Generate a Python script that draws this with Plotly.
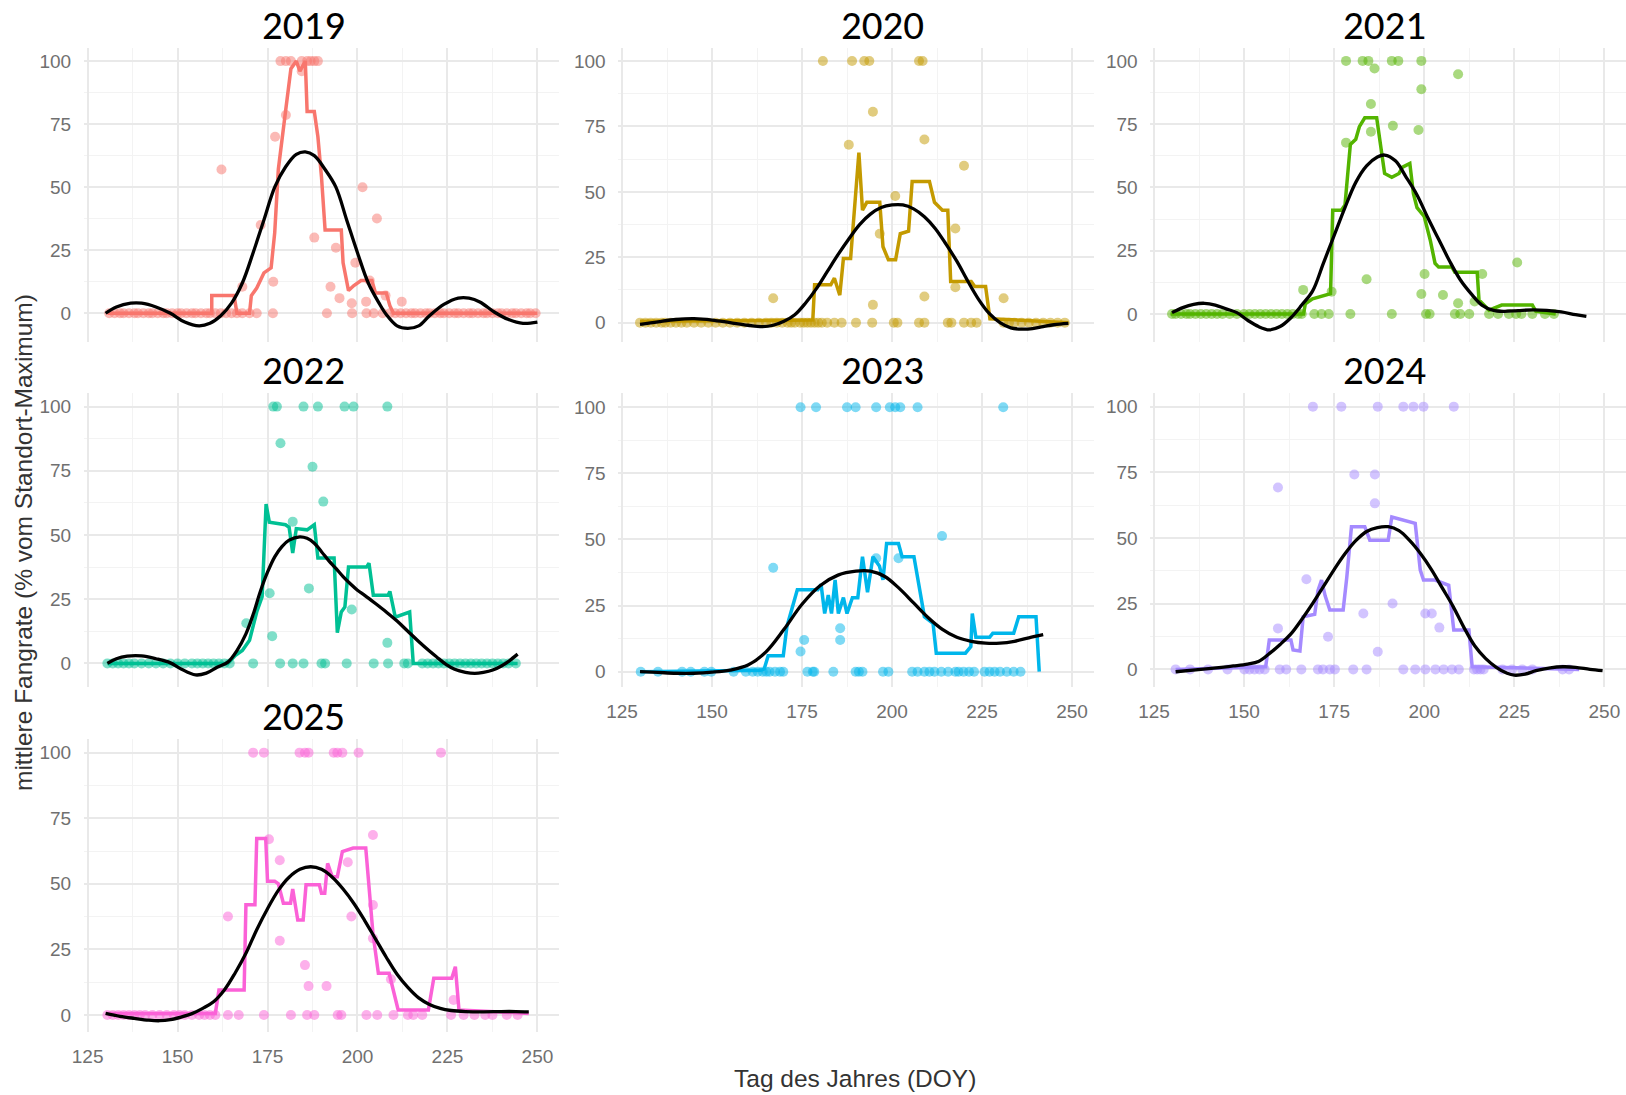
import plotly.graph_objects as go

# ---------------------------------------------------------------------------
# Daten: mittlere Fangrate (% vom Standort-Maximum) je Tag des Jahres (DOY)
# ---------------------------------------------------------------------------
YEARS = ["2019", "2020", "2021", "2022", "2023", "2024", "2025"]
YEAR_COLORS = ["#F8766D", "#C49A00", "#53B400", "#00C094", "#00B6EB", "#A58AFF", "#FB61D7"]

# Tage ohne Fang (Fangrate 0)
nullfang_2019 = [131, 132.5, 134, 135, 136.5, 138, 139, 140.5, 142, 143, 144.5, 146, 147, 148.5, 150, 151,
                 152.5, 154, 155, 156.5, 158, 159, 160.5, 162, 163.5, 165, 166.5, 168, 170, 172, 176.5,
                 191.5, 198.5, 202.5, 204.5, 207, 209, 210.5, 212, 213.5, 215, 216, 217.5, 219, 220, 221.5,
                 223, 224, 225.5, 227, 228, 229.5, 231, 232, 233.5, 235, 236, 237.5, 239, 240, 241.5, 243,
                 244, 245.5, 247, 248, 249.5]
nullfang_2020 = [130, 131.5, 133, 134.5, 136, 137, 138.5, 140, 141.5, 143, 145, 147, 149, 151, 153, 155, 157,
                 159, 161, 163, 165, 166.5, 168, 169.5, 171, 172, 173, 174.5, 175.5, 176.5, 177.5, 178.5,
                 179.5, 180.5, 182, 184, 186, 190, 194.5, 200.5, 201.5, 207.5, 209, 215.5, 216.5, 220, 222,
                 223.5, 231, 232.5, 234, 236, 238, 240, 242, 244, 246, 248]
nullfang_2021 = [130, 131, 132.5, 134, 135, 136.5, 138, 139.5, 141, 142.5, 144, 146, 148, 150, 151.5, 153,
                 154.5, 156, 157.5, 159, 160.5, 162, 163.5, 165, 166, 169.5, 171.5, 173.5, 179.5, 191, 200.5,
                 201.5, 208.5, 210, 212.5, 218, 220.5, 223.5, 225.5, 227, 230, 233.5, 236]
nullfang_2022 = [130.5, 132, 133.5, 135, 136.5, 138, 140, 142, 144, 146, 148, 150, 152, 154, 155.5, 157,
                 158.5, 160, 161.5, 163, 164.5, 171, 178.5, 182, 185, 190, 191, 197, 204.5, 208.5, 213, 214,
                 218, 219.5, 221, 222.5, 224, 225.5, 227, 228.5, 230, 231.5, 233, 234.5, 236, 237.5, 239,
                 240.5, 242, 244]
nullfang_2023 = [130.2, 135, 141.7, 144.1, 147.9, 149.8, 156, 159.4, 161.3, 162.7, 164.1, 165.1, 166, 167.5,
                 168.9, 169.8, 176.5, 178, 178.4, 183.7, 189.9, 190.8, 191.8, 197.5, 199, 205.6, 207.1, 209,
                 210.4, 211.8, 213.7, 215.6, 217.6, 218.5, 219.9, 221.4, 222.8, 225.7, 227.1, 228.5, 230,
                 231.9, 233.8, 235.7]
nullfang_2024 = [131, 135, 140, 145.4, 150.1, 151.5, 152.9, 154.3, 155.7, 159.9, 161.7, 165.9, 170.5, 171.9,
                 173.8, 175.2, 180.3, 184, 194.2, 197.5, 200.3, 203.1, 205.4, 207.7, 209.6, 213.8, 214.7,
                 215.6, 216.5, 221.7, 224.4, 227.2, 230, 238.4, 240.2]
nullfang_2025 = [130.5, 132, 133.5, 135, 136.5, 138, 139.5, 141, 143, 145, 147, 149, 150.5, 152, 154, 156,
                 157.5, 159, 160.5, 164, 167, 174, 181.5, 186, 188, 194.5, 195.5, 202.5, 205.5, 210, 214,
                 215.5, 218, 226, 229.5, 232.5, 235.5, 237.5, 241.5, 244.5]

# Einzelwerte mit Fang
fang_doy_2019 = [162.2, 173.1, 177.1, 180.1, 176.6, 178.6, 180.1, 181.5, 184.5, 186, 187, 188, 189, 184.5,
                 188, 168, 194, 192.5, 195, 199.4, 201.4, 205.4, 198.4, 202.4, 203.4, 207.8, 212.3]
fang_val_2019 = [57, 35, 70, 78.6, 12.5, 100, 100, 100, 100, 100, 100, 100, 100, 96,
                 30, 10.5, 26, 10.5, 6, 20, 50, 37.6, 4, 4.6, 13, 7, 4.6]
fang_doy_2020 = [180.8, 188.9, 192.3, 193.7, 207.5, 208.5, 194.7, 188, 209, 220, 200.9, 196.6, 217.6, 209,
                 194.7, 167, 231, 217.6]
fang_val_2020 = [100, 100, 100, 100, 100, 100, 80.6, 68, 70, 60, 48.4, 34, 36, 10,
                 6.8, 9.3, 9.3, 13.5]
fang_doy_2021 = [178.3, 182.9, 184.5, 186.2, 191, 192.8, 199.2, 209.4, 199.2, 185.2, 191.3, 198.4, 178.3,
                 185.2, 200.1, 216.1, 225.8, 166.4, 174.3, 184, 199.2, 205.2, 209.4, 214]
fang_val_2021 = [100, 100, 100, 97, 100, 100, 100, 94.7, 88.8, 83, 74.4, 72.7, 67.7,
                 72, 15.8, 15.8, 20.3, 9.5, 8.8, 13.7, 7.9, 7.5, 4.2, 4.9]
fang_doy_2022 = [176.6, 177.6, 185, 189, 196.4, 198.9, 208.3, 178.6, 187.5, 190.5, 182, 186.5, 175.6, 198.4,
                 176.3, 208.3, 169.1]
fang_val_2022 = [100, 100, 100, 100, 100, 100, 100, 85.7, 76.6, 63, 55.2, 29.2, 27.3, 21,
                 10.6, 8, 15.6]
fang_doy_2023 = [174.6, 178.9, 187.5, 189.9, 195.6, 199.4, 200.9, 202.3, 207.1, 230.9, 213.9, 167, 195.6,
                 201.8, 175.6, 174.6, 185.6, 185.6]
fang_val_2023 = [100, 100, 100, 100, 100, 100, 100, 100, 100, 100, 51.3, 39.3, 42.9,
                 42.9, 12, 7.6, 16.4, 12]
fang_doy_2024 = [169.1, 177, 187.1, 194.2, 197, 199.8, 208.2, 180.6, 186.3, 186.3, 159.4, 167.3, 191.2,
                 183.1, 200.3, 202.1, 204.2, 173.3, 159.4, 187.1]
fang_val_2024 = [100, 100, 100, 100, 100, 100, 100, 74.2, 74.2, 63.2, 69.2, 34.3, 25.1,
                 21.3, 21.3, 21.3, 15.9, 12.4, 15.6, 6.7]
fang_doy_2025 = [171, 174, 183.9, 185.4, 186.4, 193.4, 194.4, 195.8, 200.3, 223.2, 204.3, 175.4, 178.4,
                 197.3, 204.3, 164, 198.3, 178.4, 204.3, 185.4, 186.4, 191.4, 209.3, 226.7]
fang_val_2025 = [100, 100, 100, 100, 100, 100, 100, 100, 100, 100, 68.6, 67, 59,
                 58.2, 41.9, 37.5, 37.5, 28.3, 29.2, 19, 11, 11, 13.6, 5.7]

# gleitendes Mittel der Fangrate
mittel_doy_2019 = [130.5, 159.5, 159.5, 165.7, 166.5, 170, 170.5, 172, 174, 176, 177, 178, 180, 181.5, 183,
                   184, 185.5, 186, 188, 189, 190, 191, 195.5, 196, 197.5, 199, 201, 204, 205, 208, 209,
                   210, 250]
mittel_val_2019 = [0, 0, 7, 7, 0, 0, 7, 10, 16, 18, 32, 57, 80, 97, 100,
                   96, 100, 80, 80, 70, 54, 33, 33, 20, 9, 11, 13, 13, 8, 8, 3,
                   0, 0]
mittel_doy_2020 = [130, 178, 178.5, 183, 184, 185.5, 186.5, 188.5, 190.8, 191.8, 193, 196.6, 197.5, 199,
                   201, 202.3, 204.6, 205.6, 210.4, 211.8, 214, 215.5, 216.3, 222, 223, 226, 227.2, 240, 249]
mittel_val_2020 = [0.5, 1, 14.5, 14.5, 17, 10.5, 24.5, 24.5, 65, 43, 46, 46, 29, 24,
                   24, 34, 35, 54, 54, 46, 43, 43, 15.7, 15.7, 13.8, 13.8, 1.5, 0.5, 0]
mittel_doy_2021 = [129.6, 166.5, 167, 169, 174, 174.6, 177, 178, 179.5, 181, 182, 183.5, 186.8, 188, 189,
                   191, 193, 194, 196, 197, 198, 200, 201.7, 203, 204, 207.7, 208.5, 214.7, 215.2, 218,
                   221.5, 230, 231, 236.5]
mittel_val_2021 = [0, 0, 4, 6, 8, 41, 41, 43, 67, 69, 74, 77.5, 77.5, 65, 55.5,
                   54, 55.5, 58, 59.5, 47.5, 42, 38.5, 29, 20, 18.5, 18.5, 16.5, 16.5, 5.5, 1.5,
                   3.5, 3.5, 1, 0]
mittel_doy_2022 = [130.5, 164, 166, 168, 170, 172, 173.5, 174.6, 175.5, 180, 181, 182, 183, 186, 188, 189,
                   193.5, 194.4, 195.5, 196.5, 197.5, 202.5, 203.2, 204.4, 208.5, 209, 210.5, 214.5,
                   215.5, 244.5]
mittel_val_2022 = [0, 0, 3, 5, 9, 20, 26, 62, 55, 54, 53, 43, 52.5, 52, 54, 41,
                   41, 12, 20, 22, 37.5, 37.5, 39, 26.5, 26.5, 28, 18, 20,
                   0, 0]
mittel_doy_2023 = [130.2, 163.5, 164.5, 165.6, 169.8, 170.8, 173.7, 179.4, 180.3, 181.3, 182.3, 183.2,
                   184.2, 185.1, 186.5, 187.5, 189, 190.5, 191.8, 193.2, 194.7, 196.5, 197.5, 198.5,
                   201.8, 202.8, 206.1, 207, 209, 211.4, 212.3, 220.4, 221.9, 222.3, 223.3, 227.1, 228,
                   233.8, 235.2, 240, 240.9]
mittel_val_2023 = [0, 0.5, 1, 6, 6, 17, 31, 31, 33, 22, 29, 22,
                   34.7, 22, 28, 22, 28, 28, 43.5, 30, 43.5, 40, 34.7, 48.5,
                   48.5, 43.5, 43.5, 36, 20.8, 18.3, 7, 7, 9.5, 22, 13, 13, 14.5,
                   14.5, 20.8, 20.8, 0]
mittel_doy_2024 = [131, 156, 157, 163, 163.6, 165.5, 166.4, 169.6, 170.5, 171.5, 172.5, 173.8, 177.5, 178.5,
                   179.8, 183.5, 184.9, 190, 191, 193.8, 197.5, 198.9, 199.8, 203, 206.8, 208.2, 212.4,
                   213.3, 243]
mittel_val_2024 = [0, 1, 11.2, 11.2, 7.4, 7, 20, 21, 30, 34, 28, 22.6, 22.6, 35,
                   54.3, 54.3, 49.2, 49.2, 58, 57, 55.6, 37.8, 34, 34, 32, 15, 15,
                   1, 0]
mittel_doy_2025 = [130.2, 160.5, 161.5, 168.5, 169, 171.5, 172, 174.5, 175, 177, 178, 179.4, 181.4, 182,
                   183.4, 184.9, 185.7, 189.4, 190, 190.9, 191.7, 193, 194.4, 195.8, 198.8, 202.3, 204.3,
                   205.8, 208.8, 211.3, 219.7, 221.2, 226.2, 227.2, 228.2, 247.6]
mittel_val_2025 = [0.6, 0.6, 9.5, 9.5, 42, 42, 67.3, 67.3, 51, 51, 50, 42.6, 42.6, 48,
                   36.2, 36.2, 49.6, 49.6, 46.4, 46.4, 57.8, 52.7, 52.7, 62.3, 63.6, 63.6, 31,
                   15.9, 15.9, 1.9, 1.9, 14, 14, 18.4, 1.9, 0.6]

# geglaettete Saisonkurve
glatt_doy_2019 = [130, 133, 137, 140, 144, 148, 152, 156, 159, 162, 165, 168, 171, 174, 177, 180, 183, 185.5,
                  188, 191, 194, 197, 200, 203, 206, 208, 211, 214, 217, 220, 224, 228, 231, 234, 238, 242,
                  246, 250]
glatt_val_2019 = [0, 2.5, 4, 4, 2.5, 0, -3.5, -5, -4, -1, 4, 12, 24, 37, 50, 58, 63, 64,
                  62.5, 57, 50, 37, 24, 12, 4, -0.5, -5, -6, -5, -1, 3.5, 6, 6, 4.5, 0.5, -2.5,
                  -4, -3.5]
glatt_doy_2020 = [130, 135, 140, 145, 150, 155, 160, 164, 167, 170, 173, 176, 179, 182, 185, 188, 191, 194,
                  197, 200, 203, 206, 209, 212, 215, 218, 221, 224, 227, 230, 233, 236, 239, 242, 245, 249]
glatt_val_2020 = [-0.7, 0.3, 1.2, 1.5, 1, 0, -1, -1.5, -1, 0.5, 3, 7.5, 13, 19.5, 26, 32, 37.5, 41.5,
                  44, 45, 45, 43.5, 40.5, 36, 30, 23.5, 16, 9, 3.5, 0, -2, -2.5, -2.3, -1.5, -0.8, -0.3]
glatt_doy_2021 = [130, 133, 136, 139, 142, 145, 148, 151, 154, 157, 160, 163, 166, 169, 172, 175, 178, 181,
                  184, 187, 189, 192, 195, 198, 201, 204, 207, 210, 213, 216, 219, 222, 226, 230, 234, 238,
                  242, 245]
glatt_val_2021 = [0.5, 2.5, 3.8, 4.2, 3.5, 2, 0.5, -2.5, -5, -6.3, -5, -1.5, 3.5, 9, 20, 31, 42, 52,
                  58.5, 62, 62.8, 60.5, 54, 47, 38, 29.5, 21, 13.5, 8, 3.5, 1.5, 1, 1.3, 1.6, 1.4, 0.8,
                  -0.3, -1]
glatt_doy_2022 = [130.5, 133, 136, 140, 144, 148, 151, 155, 158, 161, 164, 166.5, 169, 171, 173, 175, 177,
                  179, 181, 184, 186, 188, 190, 192, 194, 196, 198, 200, 202, 205, 208, 211, 214, 217, 220,
                  222, 224.7, 227, 230, 232.6, 235, 237.6, 240, 242, 244.5]
glatt_val_2022 = [0, 1.8, 2.8, 2.9, 1.8, 0.2, -2.2, -4.5, -3.8, -1.5, 0.5, 5, 11.5, 19, 28, 35.5, 41.5,
                  45.5, 48, 49.3, 48.7, 46.8, 43.5, 40, 37, 33.8, 31, 28.5, 26.5, 23.3, 20, 16.5, 12.5, 8.5,
                  4.8, 2.5, -0.5, -2.3, -3.5, -3.9, -3.5, -2.6, -1, 0.8, 3.6]
glatt_doy_2023 = [130, 135, 140, 145, 150, 155, 160, 165, 170, 175, 180, 185, 190, 194, 198, 202, 206, 210,
                  214, 218, 222, 226, 230, 234, 238, 242]
glatt_val_2023 = [0, -0.3, -0.6, -0.6, -0.2, 0.6, 2.5, 7.5, 16, 25.5, 32.5, 36.5, 38, 38, 36, 31.5, 26,
                  20.5, 16, 13, 11.5, 10.8, 10.8, 11.5, 12.8, 14]
glatt_doy_2024 = [131, 138, 143, 147, 151, 154, 157, 160, 163, 166, 169, 172, 175, 178, 181, 184, 187, 190,
                  193, 196, 199, 202, 205, 208, 211, 214, 217, 220, 223, 225, 228, 231, 235, 238.5, 242,
                  246, 249.5]
glatt_val_2024 = [-0.9, 0, 0.7, 1.3, 2, 3, 6, 9.5, 13.5, 19, 25, 31.5, 38, 44, 49, 52.5, 54, 54.3,
                  52.8, 49, 44, 38, 31, 24, 16, 9, 4.2, 0.8, -1.5, -2.2, -1.8, -0.5, 0.6, 1, 0.8,
                  0, -0.5]
glatt_doy_2025 = [130, 134, 138, 142, 145, 148, 151, 154, 157, 160, 163, 166, 169, 172, 175, 178, 181, 184,
                  187, 190, 193, 196, 199, 202, 205, 208, 211, 214, 217, 220, 223, 226, 230, 235, 240, 244,
                  247.6]
glatt_val_2025 = [0.6, -0.5, -1.3, -2, -2.2, -1.8, -0.8, 0.5, 2.5, 5, 9.5, 16, 23.5, 32.5, 40.5, 47.5,
                  52.5, 55.5, 56.5, 55.5, 52.5, 48, 42.5, 36, 29, 22, 15.5, 10.5, 6.5, 4, 2.5, 1.7,
                  1.3, 1.2, 1.3, 1.3, 1.2]

X_TICKS = [125, 150, 175, 200, 225, 250]
Y_TICKS = [0, 25, 50, 75, 100]

DATA = {
    "2019": (nullfang_2019, fang_doy_2019, fang_val_2019, mittel_doy_2019, mittel_val_2019,
             glatt_doy_2019, glatt_val_2019),
    "2020": (nullfang_2020, fang_doy_2020, fang_val_2020, mittel_doy_2020, mittel_val_2020,
             glatt_doy_2020, glatt_val_2020),
    "2021": (nullfang_2021, fang_doy_2021, fang_val_2021, mittel_doy_2021, mittel_val_2021,
             glatt_doy_2021, glatt_val_2021),
    "2022": (nullfang_2022, fang_doy_2022, fang_val_2022, mittel_doy_2022, mittel_val_2022,
             glatt_doy_2022, glatt_val_2022),
    "2023": (nullfang_2023, fang_doy_2023, fang_val_2023, mittel_doy_2023, mittel_val_2023,
             glatt_doy_2023, glatt_val_2023),
    "2024": (nullfang_2024, fang_doy_2024, fang_val_2024, mittel_doy_2024, mittel_val_2024,
             glatt_doy_2024, glatt_val_2024),
    "2025": (nullfang_2025, fang_doy_2025, fang_val_2025, mittel_doy_2025, mittel_val_2025,
             glatt_doy_2025, glatt_val_2025),
}

# ---------------------------------------------------------------------------
# Layout (Pixelangaben fuer 1626 x 1095)
# ---------------------------------------------------------------------------
W, H = 1626, 1095
COL_X = [(84, 559), (618.4, 1093.6), (1150.4, 1626)]
ROW_Y = [(48, 342), (393, 687), (739, 1032)]
SLOT = {"2019": (0, 0), "2020": (0, 1), "2021": (0, 2),
        "2022": (1, 0), "2023": (1, 1), "2024": (1, 2), "2025": (2, 0)}
Y_RANGE = {"2019": (-11.4, 105.2), "2020": (-7.4, 105.0), "2021": (-11.1, 105.1),
           "2022": (-9.2, 105.3), "2023": (-5.8, 105.4), "2024": (-6.7, 105.2),
           "2025": (-6.5, 105.2)}
BOTTOM_PANELS = {"2023", "2024", "2025"}
TITLE_X = [303, 882, 1384]
TITLE_Y = [25.5, 370, 716]

GRID_MAJOR = "#e9e9e9"
GRID_MINOR = "#f3f3f3"
TICK_FONT = dict(family="Liberation Sans, Arial, sans-serif", size=19, color="#707070")
TITLE_FONT = dict(family="Liberation Sans, Arial, sans-serif", size=24.5, color="#333333")

fig = go.Figure()
layout_axes = {}
annotations = []

for i, (year, color) in enumerate(zip(YEARS, YEAR_COLORS)):
    n = i + 1
    xa = "x" if n == 1 else f"x{n}"
    ya = "y" if n == 1 else f"y{n}"
    nullfang, fdoy, fval, mdoy, mval, gdoy, gval = DATA[year]

    pts_x = list(nullfang) + list(fdoy)
    pts_y = [0 for _ in nullfang] + list(fval)
    fig.add_trace(go.Scatter(x=pts_x, y=pts_y, mode="markers", xaxis=xa, yaxis=ya,
                             marker=dict(color=color, size=10, opacity=0.5, line=dict(width=0)),
                             showlegend=False, hoverinfo="skip"))
    fig.add_trace(go.Scatter(x=mdoy, y=mval, mode="lines", xaxis=xa, yaxis=ya,
                             line=dict(color=color, width=3.5), showlegend=False))
    fig.add_trace(go.Scatter(x=gdoy, y=gval, mode="lines", xaxis=xa, yaxis=ya,
                             line=dict(color="black", width=3.3, shape="spline", smoothing=1.0),
                             showlegend=False))

    r, c = SLOT[year]
    x0, x1 = COL_X[c]
    y0, y1 = ROW_Y[r]
    xkey = "xaxis" if n == 1 else f"xaxis{n}"
    ykey = "yaxis" if n == 1 else f"yaxis{n}"
    layout_axes[xkey] = dict(
        domain=[x0 / W, min(x1 / W, 1.0)], anchor=ya, range=[124, 256], automargin=False,
        tickvals=X_TICKS, showticklabels=year in BOTTOM_PANELS,
        ticks="outside", ticklen=7, tickcolor="rgba(0,0,0,0)", tickfont=TICK_FONT,
        showgrid=True, gridcolor=GRID_MAJOR, gridwidth=1.6,
        minor=dict(tickvals=[137.5, 162.5, 187.5, 212.5, 237.5], showgrid=True,
                   gridcolor=GRID_MINOR, gridwidth=1.0),
        zeroline=False, showline=False, fixedrange=True,
    )
    layout_axes[ykey] = dict(
        domain=[1 - y1 / H, 1 - y0 / H], anchor=xa, range=list(Y_RANGE[year]), automargin=False,
        tickvals=Y_TICKS, ticks="outside", ticklen=8, tickcolor="rgba(0,0,0,0)",
        tickfont=TICK_FONT,
        showgrid=True, gridcolor=GRID_MAJOR, gridwidth=1.6,
        minor=dict(tickvals=[12.5, 37.5, 62.5, 87.5], showgrid=True,
                   gridcolor=GRID_MINOR, gridwidth=1.0),
        zeroline=False, showline=False, fixedrange=True,
    )
    annotations.append(dict(
        text=year, x=TITLE_X[c] / W, y=1 - TITLE_Y[r] / H, xref="paper", yref="paper",
        xanchor="center", yanchor="middle", showarrow=False,
        font=dict(family="Carlito, Lato, sans-serif", size=41, color="black"),
    ))

annotations.append(dict(
    text="mittlere Fangrate (% vom Standort-Maximum)", x=23 / W, y=1 - 543 / H,
    xref="paper", yref="paper", xanchor="center", yanchor="middle", textangle=-90,
    showarrow=False, font=TITLE_FONT,
))
annotations.append(dict(
    text="Tag des Jahres (DOY)", x=855 / W, y=1 - 1078 / H,
    xref="paper", yref="paper", xanchor="center", yanchor="middle",
    showarrow=False, font=TITLE_FONT,
))

fig.update_layout(
    width=W, height=H, margin=dict(l=0, r=0, t=0, b=0, autoexpand=False),
    paper_bgcolor="white", plot_bgcolor="white", showlegend=False,
    annotations=annotations, **layout_axes,
)

fig.write_html("out.html")
